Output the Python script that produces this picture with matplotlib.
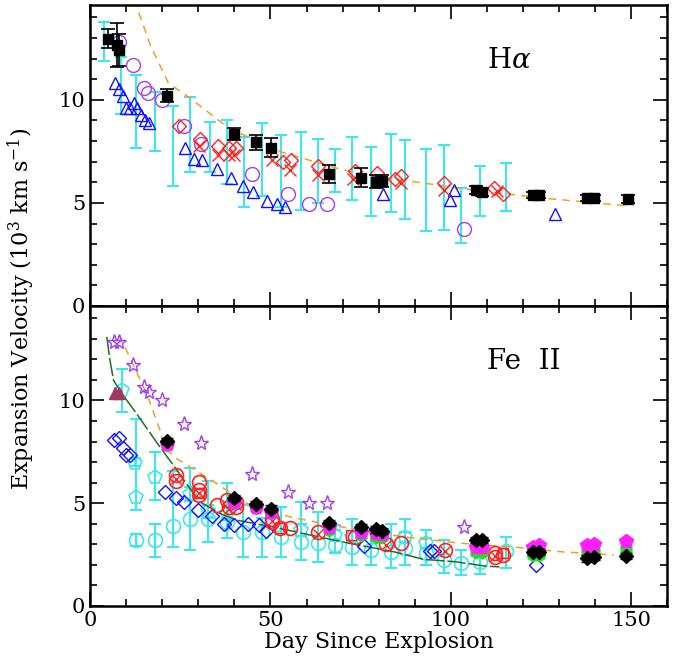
import numpy as np
import matplotlib
matplotlib.use('Agg')
import matplotlib.pyplot as plt
from matplotlib.ticker import MultipleLocator

plt.rcParams['font.family'] = 'DejaVu Serif'
plt.rcParams['mathtext.fontset'] = 'dejavuserif'

# ---------------- H-alpha panel ----------------
ha_sq_x = [5.0, 7.4, 8.0, 21.2, 40.0, 46.1, 50.1, 66.2, 75.1, 79.3, 81.0, 107.0, 108.6, 122.9, 124.4, 137.7, 139.6, 149.1]
ha_sq_y = [12.96, 12.67, 12.4, 10.2, 8.33, 7.93, 7.67, 6.41, 6.23, 6.03, 6.07, 5.62, 5.52, 5.37, 5.37, 5.23, 5.23, 5.18]
ha_sq_e = [0.45, 1.07, 0.78, 0.3, 0.3, 0.35, 0.46, 0.43, 0.46, 0.3, 0.3, 0.2, 0.2, 0.15, 0.15, 0.15, 0.15, 0.2]

ha_circ_x = [8.0, 11.8, 15.0, 16.0, 19.8, 25.9, 30.8, 44.8, 54.8, 60.8, 65.8, 103.8]
ha_circ_y = [12.78, 11.67, 10.57, 10.32, 10.0, 8.74, 7.86, 6.38, 5.45, 4.95, 4.95, 3.75]

ha_tri_x = [6.9, 7.9, 9.1, 10.0, 11.1, 12.2, 13.1, 14.0, 15.3, 16.4, 26.2, 28.9, 31.1, 35.1, 39.1, 42.3,
            45.1, 49.0, 51.9, 54.0, 81.1, 99.8, 100.9, 128.9]
ha_tri_y = [10.81, 10.52, 10.19, 9.6, 9.6, 9.84, 9.6, 9.25, 9.0, 8.87, 7.65, 7.14, 7.09, 6.63, 6.2, 5.83,
            5.55, 5.11, 4.95, 4.82, 5.42, 5.15, 5.61, 4.45]

ha_dia_x = [24.7, 30.5, 35.4, 38.5, 40.5, 53.6, 55.6, 63.1, 73.3, 79.5, 84.6, 86.2, 98.2, 112.1, 114.4]
ha_dia_y = [8.74, 8.09, 7.78, 7.65, 7.65, 7.0, 7.06, 6.81, 6.57, 6.47, 6.15, 6.31, 5.95, 5.71, 5.44]

ha_x_x = [30.2, 35.4, 38.5, 39.9, 50.3, 55.3, 63.1, 73.0, 86.1, 98.0, 112.8]
ha_x_y = [7.74, 7.33, 7.33, 7.33, 7.06, 6.6, 6.36, 6.15, 5.95, 5.63, 5.56]

ha_cyan_x = [3.9, 8.5, 12.8, 18.0, 23.0, 27.7, 33.1, 38.0, 42.6, 47.7, 53.0, 58.4, 63.1, 67.8, 72.7,
             78.0, 83.3, 87.2, 93.1, 98.0, 102.7, 108.0, 115.4]
ha_cyan_lo = [11.86, 9.3, 7.65, 7.52, 5.83, 6.52, 6.52, 5.9, 4.79, 5.34, 4.82, 4.66, 5.01, 5.55, 5.15,
              4.37, 4.58, 4.22, 3.63, 3.69, 3.04, 4.35, 4.61]
ha_cyan_hi = [13.76, 12.07, 11.21, 10.37, 9.71, 10.16, 8.9, 9.0, 8.22, 8.87, 8.27, 8.46, 8.12, 7.6, 8.22,
              7.69, 8.33, 8.06, 7.62, 7.83, 5.74, 6.81, 6.94]

ha_fit_x = [12.2, 16.8, 21.7, 27.7, 37.9, 44.4, 53.2, 68.4, 77.6, 89.7, 102.6, 125.7, 149.3]
ha_fit_y = [14.85, 12.6, 10.81, 10.08, 8.7, 8.14, 7.46, 6.68, 6.31, 6.03, 5.71, 5.23, 4.85]

# ---------------- Fe II panel ----------------
fe_star_x = [6.7, 7.9, 11.8, 14.8, 16.2, 19.9, 25.9, 30.8, 44.8, 54.8, 60.8, 65.8, 103.8]
fe_star_y = [12.83, 12.86, 11.73, 10.68, 10.4, 10.03, 8.87, 7.95, 6.44, 5.55, 5.03, 5.03, 3.85]

fe_ftri_x = [6.9, 7.9]
fe_ftri_y = [10.37, 10.37]

fe_dia_x = [6.7, 7.9, 9.1, 10.0, 11.1, 20.8, 23.8, 25.9, 29.9, 33.7, 37.0, 39.9, 43.7, 46.7, 48.8,
            76.0, 94.3, 95.4, 123.7]
fe_dia_y = [8.06, 8.17, 7.69, 7.33, 7.33, 5.55, 5.26, 5.06, 4.66, 4.38, 3.97, 3.93, 4.01, 3.93, 3.66,
            2.93, 2.69, 2.69, 1.99]

fe_blk_x = [21.3, 39.9, 45.9, 50.1, 66.1, 75.0, 79.3, 81.0, 107.0, 108.6, 122.9, 124.4, 137.7, 139.6, 148.5]
fe_blk_y = [8.01, 5.26, 4.95, 4.74, 4.04, 3.85, 3.72, 3.65, 3.2, 3.2, 2.64, 2.64, 2.31, 2.39, 2.43]
fe_mag_y = [7.9, 5.06, 4.82, 4.58, 3.85, 3.61, 3.53, 3.5, 2.88, 2.88, 2.88, 2.96, 2.96, 3.0, 3.17]
fe_grn_y = [7.85, 5.0, 4.75, 4.5, 3.69, 3.45, 3.37, 3.37, 2.64, 2.64, 2.5, 2.5, 2.64, 2.64, 2.75]

fe_rc_x = [23.8, 23.8, 30.3, 30.3, 30.3, 35.1, 37.9, 38.4, 40.5, 40.5, 50.4, 50.4, 52.7, 55.5, 63.1,
           73.3, 82.1, 86.2, 98.3, 112.3, 112.3, 114.4]
fe_rc_y = [6.36, 6.1, 6.03, 5.63, 5.4, 4.9, 5.15, 4.82, 4.82, 5.06, 4.09, 4.25, 3.77, 3.77, 3.58,
           3.37, 3.01, 3.04, 2.72, 2.56, 2.39, 2.48]
fe_rx_x = [23.8, 30.3, 38.4, 40.5, 50.4, 63.1, 82.1, 98.3, 112.3]
fe_rx_y = [6.2, 5.5, 4.7, 4.9, 4.15, 3.5, 2.95, 2.65, 2.45]
fe_rsq_x = [30.3, 52.7, 72.3, 114.4]
fe_rsq_y = [5.5, 3.77, 3.45, 2.56]

fe_cc_x = [12.8, 18.0, 23.1, 27.7, 32.8, 37.9, 42.5, 47.6, 52.9, 58.4, 63.1, 67.8, 72.7, 78.0, 83.3,
           87.2, 93.1, 98.0, 102.7, 108.0, 115.4]
fe_cc_y = [3.2, 3.2, 3.9, 4.25, 4.25, 4.09, 3.61, 3.61, 3.37, 3.12, 3.07, 2.96, 2.88, 2.72, 2.64,
           2.8, 2.56, 2.23, 2.1, 2.15, 2.69]
fe_cc_lo = [2.9, 2.39, 2.88, 2.72, 3.12, 3.29, 2.39, 2.39, 2.39, 2.23, 2.15, 2.56, 1.99, 1.99, 1.83,
            1.99, 1.99, 1.62, 1.5, 1.55, 1.83]
fe_cc_hi = [3.5, 4.01, 6.55, 6.73, 6.07, 5.96, 4.9, 4.27, 4.82, 5.06, 4.58, 3.93, 4.22, 3.77, 4.01,
            4.21, 3.69, 3.2, 2.72, 2.72, 3.37]

fe_cp_x = [8.8, 12.5, 12.8, 18.0, 27.7, 32.8, 37.9, 58.4, 67.8, 72.7, 87.2, 93.1]
fe_cp_y = [10.49, 6.97, 5.31, 6.28, 5.47, 4.6, 4.5, 3.69, 3.45, 3.37, 3.37, 3.04]
fe_cp_lo = [9.43, 6.8, 4.66, 5.15, 5.1, 4.3, 4.2, 3.4, 3.2, 3.1, 3.1, 2.8]
fe_cp_hi = [11.54, 7.2, 9.11, 7.49, 5.8, 4.9, 4.8, 4.0, 3.7, 3.6, 3.6, 3.3]

fe_fit_x = [8.1, 12.0, 15.7, 19.4, 20.8, 24.0, 27.7, 31.4, 35.1, 42.5, 47.1, 55.5, 68.4, 86.9,
            103.5, 118.3, 130.3, 145.1]
fe_fit_y = [13.19, 11.7, 10.32, 8.54, 7.65, 7.17, 6.76, 6.36, 5.96, 5.06, 4.74, 4.33, 3.88, 3.36,
            3.04, 2.85, 2.64, 2.48]

fe_grline_x = [4.6, 5.5, 6.5, 9.2, 12.9, 19.0, 23.1, 27.7, 30.5, 36.0, 40.7, 48.1, 52.7, 61.0, 72.1,
               84.1, 92.4, 101.2, 109.5, 113.5]
fe_grline_y = [13.1, 11.94, 10.97, 10.24, 9.35, 7.82, 6.84, 5.71, 5.06, 4.5, 4.17, 3.93, 3.77, 3.45,
               3.04, 2.64, 2.27, 2.15, 1.94, 1.9]

CYAN = '#3ee6ee'
PURPLE = '#a040f0'
BLUE = '#1010ff'
RED = '#ff2020'
ORANGE = '#f0a020'


def cyan_bars(ax, x, lo, hi):
    lo = np.array(lo)
    hi = np.array(hi)
    ax.errorbar(x, (lo + hi) / 2, yerr=(hi - lo) / 2, fmt='none', ecolor=CYAN,
                elinewidth=1.5, capsize=4, capthick=1.5, zorder=1)


def style(ax):
    ax.set_xlim(0, 160)
    ax.set_ylim(0, 14.6)
    ax.xaxis.set_major_locator(MultipleLocator(50))
    ax.xaxis.set_minor_locator(MultipleLocator(10))
    ax.yaxis.set_major_locator(MultipleLocator(5))
    ax.yaxis.set_minor_locator(MultipleLocator(1))
    ax.tick_params(which='both', direction='in', top=True, right=True, labelsize=15, width=1.2)
    ax.tick_params(which='major', length=10)
    ax.tick_params(which='minor', length=5)
    for s in ax.spines.values():
        s.set_linewidth(1.8)


fig = plt.figure(figsize=(6.78, 6.71), dpi=100)
ax1 = fig.add_axes([0.133, 0.544, 0.851, 0.4486])
ax2 = fig.add_axes([0.133, 0.097, 0.851, 0.447])

# top panel
cyan_bars(ax1, ha_cyan_x, ha_cyan_lo, ha_cyan_hi)
ax1.plot(ha_fit_x, ha_fit_y, ls=(0, (5, 4)), color=ORANGE, lw=1.1, zorder=2)
ax1.plot(ha_tri_x, ha_tri_y, '^', mfc='none', mec=BLUE, ms=8, mew=1, ls='none', zorder=3)
ax1.plot(ha_circ_x, ha_circ_y, 'o', mfc='none', mec=PURPLE, ms=10, mew=1, ls='none', zorder=3)
ax1.plot(ha_dia_x, ha_dia_y, 'D', mfc='none', mec=RED, ms=7, mew=1, ls='none', zorder=3)
ax1.plot(ha_x_x, ha_x_y, 'x', color=RED, ms=8, mew=1, ls='none', zorder=3)
ax1.errorbar(ha_sq_x, ha_sq_y, yerr=ha_sq_e, fmt='s', color='black', ms=7, elinewidth=1.2,
             capsize=5, capthick=1.2, zorder=4)
ax1.text(110, 11.9, r'H$\alpha$', fontsize=20, va='center', ha='left')
style(ax1)
ax1.tick_params(labelbottom=False)

# bottom panel
cyan_bars(ax2, fe_cc_x, fe_cc_lo, fe_cc_hi)
cyan_bars(ax2, fe_cp_x, fe_cp_lo, fe_cp_hi)
ax2.plot(fe_cc_x, fe_cc_y, 'o', mfc='none', mec=CYAN, ms=10, mew=1.2, ls='none', zorder=2)
ax2.plot(fe_cp_x, fe_cp_y, 'p', mfc='none', mec=CYAN, ms=10, mew=1.2, ls='none', zorder=2)
ax2.plot(fe_grline_x, fe_grline_y, ls=(0, (12, 2)), color='#207020', lw=1.1, zorder=2)
ax2.plot(fe_fit_x, fe_fit_y, ls=(0, (5, 4)), color=ORANGE, lw=1.1, zorder=2)
ax2.plot(fe_dia_x, fe_dia_y, 'D', mfc='none', mec=BLUE, ms=7, mew=1, ls='none', zorder=3)
ax2.plot(fe_star_x, fe_star_y, '*', mfc='none', mec=PURPLE, ms=11, mew=1, ls='none', zorder=3)
ax2.plot(fe_ftri_x, fe_ftri_y, '^', color='#a03860', ms=8, ls='none', zorder=3)
ax2.plot(fe_rc_x, fe_rc_y, 'o', mfc='none', mec=RED, ms=10, mew=1.2, ls='none', zorder=3)
ax2.plot(fe_rx_x, fe_rx_y, 'x', color=RED, ms=7, mew=1, ls='none', zorder=3)
ax2.plot(fe_rsq_x, fe_rsq_y, 's', mfc='none', mec=RED, ms=7, mew=1, ls='none', zorder=3)
ax2.plot(fe_blk_x, fe_grn_y, 'h', color='#20e020', ms=9, ls='none', zorder=4)
ax2.plot(fe_blk_x, fe_mag_y, 'p', color='#ff20ff', ms=10, ls='none', zorder=4)
ax2.errorbar(fe_blk_x, fe_blk_y, yerr=0.15, fmt='D', color='black', ms=7, elinewidth=1,
             capsize=4, capthick=1, zorder=5)
ax2.text(110, 11.9, 'Fe  II', fontsize=20, va='center', ha='left')
style(ax2)
ax2.set_xlabel('Day Since Explosion', fontsize=16, labelpad=1)

fig.text(0.032, 0.54, r'Expansion Velocity (10$^3$ km s$^{-1}$)', rotation=90,
         fontsize=16, va='center', ha='center')

fig.savefig('out.png', dpi=100)
